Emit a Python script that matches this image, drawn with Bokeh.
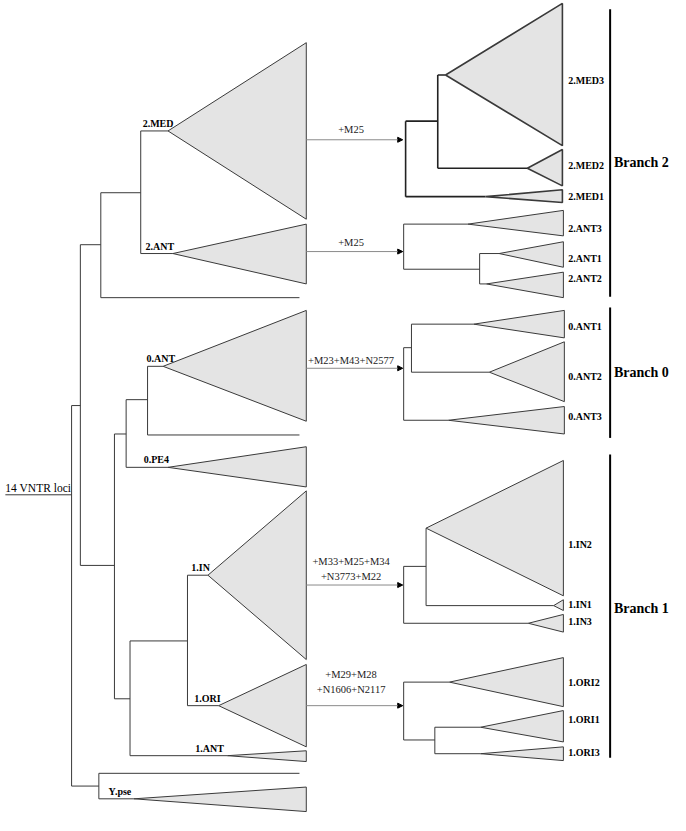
from bokeh.plotting import figure
from bokeh.models import Range1d, ColumnDataSource, Arrow, NormalHead, Label
from bokeh.core.properties import value
from bokeh.embed import file_html
from bokeh.resources import INLINE

SERIF = "'Liberation Serif', 'Times New Roman', serif"

# ---------------- data: left (14 VNTR loci) tree ----------------
# vertical connectors: node depth x, y from, y to
left_vx = [144, 103, 82, 73, 151, 129, 117, 133, 192, 101]
left_vy0 = [133, 196, 249, 413, 373, 407, 442, 653, 586, 788]
left_vy1 = [258, 303, 576, 801, 443, 476, 712, 770, 719, 814]
# horizontal branches: from depth, to depth, at y
left_hx0 = [144, 144, 103, 103, 82, 73, 82, 151, 151, 129, 129, 117, 117, 133, 133, 192, 192, 73, 101, 101, 5]
left_hx1 = [172, 177, 144, 307, 103, 82, 117, 167, 307, 151, 172, 129, 133, 192, 233, 213, 224, 101, 307, 137, 73]
left_hy = [133, 258, 196, 303, 249, 413, 576, 373, 443, 407, 476, 442, 712, 653, 770, 586, 719, 801, 788, 814, 504]

# collapsed clades: name, apex depth, apex y, base depth, top, bottom
left_names = ["2.MED", "2.ANT", "0.ANT", "0.PE4", "1.IN", "1.ORI", "1.ANT", "Y.pse"]
left_ax = [172, 177, 167, 172, 213, 224, 233, 137]
left_ay = [133, 258, 373, 476, 586, 719, 770, 814]
left_bx = [314, 314, 314, 314, 314, 314, 314, 314]
left_top = [43, 228, 316, 455, 500, 677, 765, 802]
left_bot = [223, 289, 429, 496, 672, 761, 776, 827]
left_lab_x = [146, 149, 150, 147, 196, 199, 200, 111]
left_lab_y = [131, 256, 371, 474, 584, 717, 768, 812]

# ---------------- data: added markers (arrows) ----------------
arrow_y = [142, 256, 375, 596, 719]
arrow_x0 = [314, 314, 314, 314, 314]
arrow_x1 = [413, 413, 413, 413, 413]
marker_text = ["+M25", "+M25", "+M23+M43+N2577", "+M33+M25+M34", "+N3773+M22", "+M29+M28", "+N1606+N2117"]
marker_text_y = [132, 247, 367, 572, 587, 687, 703]

# ---------------- data: refined subtrees ----------------
# (thick = 2.MED subtree)
med_vx = [416, 449]
med_vy0 = [123, 76]
med_vy1 = [200, 171]
med_hx0 = [416, 416, 449, 449]
med_hx1 = [449, 498, 457, 541]
med_hy = [123, 200, 76, 171]

right_vx = [414, 492, 414, 422, 414, 437, 414, 446]
right_vy0 = [228, 258, 354, 330, 577, 538, 695, 741]
right_vy1 = [274, 289, 428, 379, 635, 617, 754, 768]
right_hx0 = [414, 414, 492, 492, 414, 414, 422, 422, 414, 414, 437, 414, 414, 446, 446]
right_hx1 = [480, 492, 512, 499, 422, 460, 486, 502, 437, 542, 568, 461, 446, 493, 493]
right_hy = [228, 274, 258, 289, 354, 428, 330, 379, 577, 635, 617, 695, 754, 741, 768]

right_names = ["2.MED3", "2.MED2", "2.MED1", "2.ANT3", "2.ANT1", "2.ANT2",
               "0.ANT1", "0.ANT2", "0.ANT3", "1.IN2", "1.IN1", "1.IN3",
               "1.ORI2", "1.ORI1", "1.ORI3"]
right_ax = [457, 541, 498, 480, 512, 499, 486, 502, 460, 437, 568, 542, 461, 493, 493]
right_ay = [76, 171, 200, 228, 258, 289, 330, 379, 428, 538, 617, 635, 695, 741, 768]
right_bx = [577, 577, 577, 578, 578, 578, 579, 579, 579, 578, 578, 578, 578, 578, 578]
right_top = [3, 152, 193, 214, 246, 277, 316, 348, 414, 469, 611, 626, 670, 724, 761]
right_bot = [148, 189, 206, 240, 272, 303, 344, 409, 442, 607, 622, 644, 720, 756, 775]
right_lab_y = [82, 168, 200, 232, 263, 283, 332, 383, 424, 555, 616, 633, 695, 733, 767]

# ---------------- data: branch groups ----------------
branch_names = ["Branch 2", "Branch 0", "Branch 1"]
branch_y0 = [9, 313, 463]
branch_y1 = [302, 446, 772]
branch_text_y = [165, 379, 620]

# ---------------- figure ----------------
p = figure(width=670, height=815, output_backend="svg", toolbar_location=None,
           x_range=Range1d(0, 688), y_range=Range1d(831, 0),
           min_border=0, outline_line_color=None)
p.axis.visible = False
p.grid.visible = False

LINE = "#3a3a3a"
FILL = "#e4e4e4"

def tri_xs(ax, bx):
    return [[a, b, b] for a, b in zip(ax, bx)]

def tri_ys(ay, top, bot):
    return [[a, t, b] for a, t, b in zip(ay, top, bot)]

# left tree
p.segment(x0=left_vx, y0=left_vy0, x1=left_vx, y1=left_vy1, line_color=LINE, line_width=1)
p.segment(x0=left_hx0, y0=left_hy, x1=left_hx1, y1=left_hy, line_color=LINE, line_width=1)
p.patches(xs=tri_xs(left_ax, left_bx), ys=tri_ys(left_ay, left_top, left_bot),
          fill_color=FILL, line_color=LINE, line_width=1)
p.text(x=left_lab_x, y=left_lab_y, text=left_names, text_font=value(SERIF),
       text_font_style="bold", text_font_size="10px", text_baseline="bottom",
       text_align="left", text_color="black")
p.text(x=[5], y=[503], text=["14 VNTR loci"], text_font=value(SERIF),
       text_font_size="11.5px", text_baseline="bottom", text_align="left", text_color="black")

# arrows
src = ColumnDataSource(dict(x0=arrow_x0, x1=arrow_x1, y=arrow_y))
p.add_layout(Arrow(end=NormalHead(size=5, fill_color="black", line_color="black"),
                   x_start="x0", y_start="y", x_end="x1", y_end="y",
                   line_color="#8a8a8a", line_width=1, source=src))
p.text(x=[360] * len(marker_text), y=marker_text_y, text=marker_text, text_font=value(SERIF),
       text_font_size="10.5px", text_baseline="middle", text_align="center", text_color="#222222")

# right subtrees
p.segment(x0=med_vx, y0=med_vy0, x1=med_vx, y1=med_vy1, line_color="#222222", line_width=1.6)
p.segment(x0=med_hx0, y0=med_hy, x1=med_hx1, y1=med_hy, line_color="#222222", line_width=1.6)
p.segment(x0=right_vx, y0=right_vy0, x1=right_vx, y1=right_vy1, line_color=LINE, line_width=1)
p.segment(x0=right_hx0, y0=right_hy, x1=right_hx1, y1=right_hy, line_color=LINE, line_width=1)
lw = [1.6] * 3 + [1] * 12
p.patches(xs=tri_xs(right_ax, right_bx), ys=tri_ys(right_ay, right_top, right_bot),
          fill_color=FILL, line_color=LINE, line_width=lw)
p.text(x=[583] * len(right_names), y=right_lab_y, text=right_names, text_font=value(SERIF),
       text_font_style="bold", text_font_size="10px", text_baseline="middle",
       text_align="left", text_color="black")

# branch bars
p.segment(x0=[626] * 3, y0=branch_y0, x1=[626] * 3, y1=branch_y1, line_color="black", line_width=2)
for name, ty in zip(branch_names, branch_text_y):
    p.add_layout(Label(x=630, y=ty, text=name, text_font=SERIF, text_font_style="bold",
                       text_font_size="14px", text_baseline="middle", text_align="left",
                       text_color="black"))

open("out.html", "w").write(file_html(p, INLINE))
